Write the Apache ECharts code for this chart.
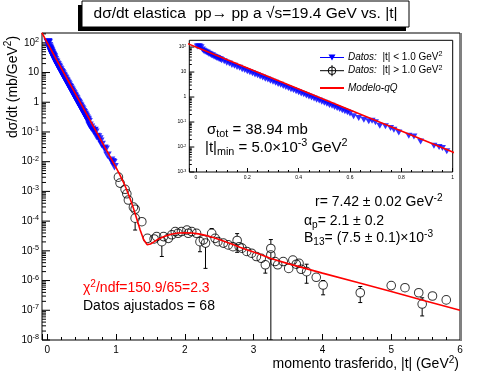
<!DOCTYPE html>
<html><head><meta charset="utf-8">
<script src="https://cdn.jsdelivr.net/npm/echarts@6/dist/echarts.min.js"></script>
<style>html,body{margin:0;padding:0;background:#fff}#c{width:479px;height:373px}</style>
</head><body><div id="c"></div>
<script>
// ---------- DATA ----------
// |t| < 1.0 GeV^2 (blue triangles): |t| in GeV^2 and log10(dσ/dt [mb/GeV^2])
const blueT = [0.005,0.010,0.015,0.020,0.025,0.030,0.035,0.040,0.045,0.050,0.055,0.060,0.065,0.070,0.075,0.080,0.085,0.090,0.095,0.100,
  0.110,0.120,0.130,0.140,0.150,0.160,0.170,0.180,0.190,0.200,0.210,0.220,0.230,0.240,0.250,0.260,0.270,0.280,0.290,0.300,
  0.310,0.320,0.330,0.340,0.350,0.360,0.370,0.380,0.390,0.400,0.410,0.420,0.430,0.440,0.450,0.460,0.470,0.480,0.490,0.500,
  0.510,0.520,0.530,0.540,0.550,0.560,0.570,0.580,0.590,0.600,
  0.614,0.634,0.654,0.673,0.686,0.699,0.716,0.738,0.758,0.771,0.790,0.829,0.849,0.875,0.927,0.947,0.960,0.977];
const blueLog10 = [2.02,2.03,2.02,1.99,1.90,1.85,1.82,1.79,1.77,1.73,1.71,1.67,1.66,1.62,1.60,1.57,1.56,1.52,1.51,1.47,
  1.43,1.37,1.34,1.28,1.25,1.20,1.17,1.11,1.08,1.03,0.99,0.95,0.90,0.87,0.82,0.78,0.73,0.70,0.65,0.61,
  0.57,0.52,0.49,0.44,0.40,0.36,0.31,0.28,0.23,0.19,0.14,0.11,0.06,0.02,-0.02,-0.06,-0.11,-0.14,-0.19,-0.23,
  -0.27,-0.32,-0.35,-0.40,-0.44,-0.48,-0.53,-0.57,-0.61,-0.66,
  -0.77,-0.84,-0.91,-0.97,-0.95,-1.01,-1.15,-1.17,-1.24,-1.31,-1.42,-1.55,-1.58,-1.78,-1.95,-2.00,-2.04,-2.17];

// |t| > 1.0 GeV^2 (open circles)
const blackT = [1.034,1.058,1.131,1.156,1.179,1.252,1.277,1.277,1.374,1.456,1.553,1.59,1.665,1.69,1.76,1.81,1.86,1.90,1.95,2.03,
  2.05,2.10,2.17,2.22,2.27,2.30,2.39,2.44,2.48,2.56,2.63,2.70,2.76,2.79,2.83,2.90,2.97,3.04,3.11,3.17,
  3.25,3.25,3.31,3.35,3.43,3.51,3.57,3.62,3.66,3.69,3.77,3.91,4.01,4.55,5.00,5.20,5.40,5.45,5.60,5.80];
const blackLog10 = [-2.52,-2.72,-2.93,-3.08,-3.29,-3.53,-3.60,-3.90,-4.02,-4.58,-4.60,-4.52,-4.69,-4.52,-4.58,-4.46,-4.35,-4.41,-4.35,-4.30,
  -4.41,-4.35,-4.41,-4.69,-4.63,-4.74,-4.41,-4.58,-4.69,-4.74,-4.80,-4.86,-4.65,-4.86,-4.91,-5.02,-5.08,-5.19,-5.25,-5.47,
  -4.92,-5.14,-5.36,-5.47,-5.36,-5.59,-5.31,-5.45,-5.42,-5.62,-5.70,-5.89,-6.15,-6.41,-6.17,-6.24,-6.41,-6.79,-6.52,-6.65];

// visible error bars (log10 of centre, lower end, upper end)
const errT       = [1.277,1.665,2.22,2.30,2.39,2.76,3.17,3.25,3.77,4.01,4.55,5.45];
const errMidLog  = [-3.90,-4.69,-4.69,-4.74,-4.41,-4.65,-5.47,-4.92,-5.70,-6.15,-6.41,-6.79];
const errLowLog  = [-4.30,-5.19,-5.03,-5.59,-4.41,-5.05,-5.75,-8.00,-6.09,-6.48,-6.74,-7.19];
const errHighLog = [-3.90,-4.69,-4.69,-4.74,-4.25,-4.42,-5.47,-4.62,-5.45,-6.00,-6.20,-6.58];

// Modelo-qQ curve
const modelT = [-0.08,0,0.1,0.2,0.3,0.4,0.5,0.6,0.7,0.8,0.9,1.0,
  1.05,1.1,1.15,1.2,1.25,1.3,1.35,1.4,1.45,1.5,1.55,1.6,
  1.7,1.8,1.9,2.0,2.1,2.2,2.3,2.4,2.5,2.6,2.7,2.8,2.9,3.0,3.1,
  3.25,3.5,4.0,4.5,5.0,5.5,6.0];
const modelLog10 = [2.34,2.0,1.58,1.16,0.74,0.32,-0.1,-0.52,-0.94,-1.36,-1.78,-2.2,
  -2.42,-2.66,-2.92,-3.22,-3.55,-3.92,-4.3,-4.62,-4.79,-4.77,-4.7,-4.62,
  -4.52,-4.44,-4.4,-4.39,-4.4,-4.43,-4.48,-4.54,-4.62,-4.7,-4.79,-4.88,-4.96,-5.04,-5.12,
  -5.26,-5.43,-5.75,-6.06,-6.37,-6.69,-7.0];

// tick labels (decade exponents)
const mainDecades = [-8,-7,-6,-5,-4,-3,-2,-1,0,1,2];
const insetDecades = [-3,-2,-1,0,1,2];

// ---------- helpers ----------
const FONT = 'Liberation Sans, Arial, Helvetica, sans-serif';
const p10 = v => Math.pow(10, v);
const pairs = (xs, ls) => xs.map((x, i) => [x, p10(ls[i])]);

function rich(fs, color) {
  const c = color || '#000';
  const s = Math.round(fs * 0.72 * 10) / 10;
  const pad = Math.round(fs * 0.6);
  return {
    sup: { fontSize: s, fontFamily: FONT, fill: c, padding: [0, 0, pad, 0] },
    sub: { fontSize: s, fontFamily: FONT, fill: c, padding: [pad, 0, 0, 0] },
    i:   { fontSize: fs, fontFamily: FONT, fill: c, fontStyle: 'italic' }
  };
}
function txt(x, y, text, fs, opt) {
  opt = opt || {};
  const color = opt.color || '#000';
  return {
    type: 'text', x: x, y: y, rotation: opt.rotation || 0, z: 100,
    style: {
      text: text, fontSize: fs, fontFamily: FONT, fill: color,
      fontStyle: opt.italic ? 'italic' : 'normal',
      align: opt.align || 'left', textAlign: opt.align || 'left',
      verticalAlign: 'middle', textVerticalAlign: 'middle',
      rich: rich(fs, color)
    }
  };
}

function yTickData(decades, xMin, maxVal) {
  const d = [];
  decades.forEach(e => {
    d.push([xMin, p10(e), 1, e]);
    for (let k = 2; k <= 9; k++) {
      const v = k * p10(e);
      if (v < maxVal) d.push([xMin, v, 0, e]);
    }
  });
  return d;
}
function makeYTicks(majorLen, minorLen, gap, fs) {
  return function (params, api) {
    const y = api.coord([api.value(0), api.value(1)])[1];
    const x0 = params.coordSys.x;
    const major = api.value(2) === 1;
    const kids = [{ type: 'line', shape: { x1: x0, y1: y, x2: x0 + (major ? majorLen : minorLen), y2: y },
      style: { stroke: '#000', lineWidth: 1 } }];
    if (major) {
      const e = api.value(3);
      const t = e === 0 ? '1' : (e === 1 ? '10' : '10{sup|' + e + '}');
      kids.push({ type: 'text', x: x0 - gap, y: y,
        style: { text: t, fontSize: fs, fontFamily: FONT, fill: '#000', align: 'right', verticalAlign: 'middle', rich: rich(fs) } });
    }
    return { type: 'group', children: kids };
  };
}
function renderErr(params, api) {
  const x = api.value(0);
  const pc = api.coord([x, api.value(1)]);
  const plo = api.coord([x, api.value(2)]);
  const phi = api.coord([x, api.value(3)]);
  const r = 4.3, cw = 2;
  const st = { stroke: '#000', lineWidth: 1 };
  const kids = [];
  if (phi[1] < pc[1] - r) {
    kids.push({ type: 'line', shape: { x1: pc[0], y1: pc[1] - r, x2: pc[0], y2: phi[1] }, style: st });
    kids.push({ type: 'line', shape: { x1: pc[0] - cw, y1: phi[1], x2: pc[0] + cw, y2: phi[1] }, style: st });
  }
  if (plo[1] > pc[1] + r) {
    kids.push({ type: 'line', shape: { x1: pc[0], y1: pc[1] + r, x2: pc[0], y2: plo[1] }, style: st });
    kids.push({ type: 'line', shape: { x1: pc[0] - cw, y1: plo[1], x2: pc[0] + cw, y2: plo[1] }, style: st });
  }
  return { type: 'group', children: kids };
}

// ---------- axes ranges ----------
const mainXMin = -0.077, mainXMax = 6;
const mainYMin = 1e-8, mainYMax = p10(2.33);
const insXMin = -0.026, insXMax = 1.0;
const insYMin = 1e-3, insYMax = p10(2.27);

const blueData = pairs(blueT, blueLog10);
const blackData = pairs(blackT, blackLog10);
const modelData = pairs(modelT, modelLog10);
const errData = errT.map((t, i) => [t, p10(errMidLog[i]), p10(errLowLog[i]), p10(errHighLog[i])]);

const chart = echarts.init(document.getElementById('c'), null, { renderer: 'canvas' });

const xAxisCommon = (min, max, split, tickLen, minorLen, fs, margin) => ({
  type: 'value', min: min, max: max, splitNumber: split,
  axisLine: { show: false },
  axisTick: { show: true, inside: true, length: tickLen, lineStyle: { color: '#000', width: 1 } },
  minorTick: { show: true, splitNumber: 5, length: minorLen, lineStyle: { color: '#000', width: 1 } },
  axisLabel: { show: true, fontSize: fs, fontFamily: FONT, color: '#000', margin: margin, showMinLabel: false, hideOverlap: false },
  splitLine: { show: false }, minorSplitLine: { show: false }
});
const yAxisCommon = (min, max) => ({
  type: 'log', logBase: 10, min: min, max: max,
  axisLine: { show: false }, axisTick: { show: false }, axisLabel: { show: false },
  splitLine: { show: false }, minorTick: { show: false }
});

chart.setOption({
  animation: false,
  backgroundColor: '#fff',
  grid: [
    { left: 42, top: 33, right: 19, bottom: 33, show: true, borderColor: '#000', borderWidth: 1, backgroundColor: '#fff' },
    { left: 189.3, top: 40.3, right: 26.3, bottom: 201, show: true, borderColor: '#000', borderWidth: 1, backgroundColor: '#fff' }
  ],
  xAxis: [
    Object.assign(xAxisCommon(mainXMin, mainXMax, 6, 6, 3, 10, 5), { gridIndex: 0 }),
    Object.assign(xAxisCommon(insXMin, insXMax, 5, 4, 2, 5, 3), { gridIndex: 1 })
  ],
  yAxis: [
    Object.assign(yAxisCommon(mainYMin, mainYMax), { gridIndex: 0 }),
    Object.assign(yAxisCommon(insYMin, insYMax), { gridIndex: 1 })
  ],
  series: [
    { type: 'custom', name: 'yticks-main', xAxisIndex: 0, yAxisIndex: 0, silent: true, clip: false, z: 3,
      data: yTickData(mainDecades, mainXMin, mainYMax), encode: { x: 0, y: 1 },
      renderItem: makeYTicks(8, 4, 3, 10) },
    { type: 'scatter', name: 'Datos: |t| < 1.0 GeV2', xAxisIndex: 0, yAxisIndex: 0, data: blueData,
      symbol: 'triangle', symbolRotate: 180, symbolSize: [8.5, 7.5], itemStyle: { color: '#0000ff' }, z: 3, silent: true },
    { type: 'custom', name: 'errors', xAxisIndex: 0, yAxisIndex: 0, silent: true, clip: true, z: 4,
      data: errData, encode: { x: 0, y: [1, 2, 3] }, renderItem: renderErr },
    { type: 'scatter', name: 'Datos: |t| > 1.0 GeV2', xAxisIndex: 0, yAxisIndex: 0, data: blackData,
      symbol: 'circle', symbolSize: 8.6,
      itemStyle: { color: 'rgba(0,0,0,0)', borderColor: '#000', borderWidth: 1 }, z: 4, silent: true },
    { type: 'line', name: 'Modelo-qQ', xAxisIndex: 0, yAxisIndex: 0, data: modelData, showSymbol: false,
      lineStyle: { color: '#ff0000', width: 1.6 }, clip: true, z: 5, silent: true },

    { type: 'custom', name: 'yticks-inset', xAxisIndex: 1, yAxisIndex: 1, silent: true, clip: false, z: 3,
      data: yTickData(insetDecades, insXMin, insYMax), encode: { x: 0, y: 1 },
      renderItem: makeYTicks(5, 2.5, 3, 5) },
    { type: 'scatter', name: 'inset-blue', xAxisIndex: 1, yAxisIndex: 1, data: blueData,
      symbol: 'triangle', symbolRotate: 180, symbolSize: [7, 6], itemStyle: { color: '#0000ff' }, z: 3, silent: true },
    { type: 'line', name: 'inset-model', xAxisIndex: 1, yAxisIndex: 1, data: modelData, showSymbol: false,
      lineStyle: { color: '#ff0000', width: 1.5 }, clip: true, z: 5, silent: true }
  ],
  graphic: [
    // title box with shadow
    { type: 'rect', z: 90, shape: { x: 78, y: 5, width: 328, height: 26 }, style: { fill: '#000' } },
    { type: 'rect', z: 91, shape: { x: 82, y: 1, width: 327, height: 26 }, style: { fill: '#fff', stroke: '#000', lineWidth: 1 } },
    txt(245.5, 14, 'dσ/dt elastica  pp→ pp a √s=19.4 GeV vs. |t|', 15.5, { align: 'center' }),
    // frame right edge
    { type: 'line', z: 90, shape: { x1: 461, y1: 33, x2: 461, y2: 341 }, style: { stroke: '#808080', lineWidth: 2 } },
    // axis titles
    txt(12.7, 87, 'dσ/dt (mb/GeV{sup|2})', 14, { align: 'center', rotation: Math.PI / 2 }),
    txt(459, 364, 'momento trasferido, |t| (GeV{sup|2})', 14, { align: 'right' }),
    // legend
    { type: 'line', z: 100, shape: { x1: 320, y1: 57.5, x2: 344, y2: 57.5 }, style: { stroke: '#0000ff', lineWidth: 1 } },
    { type: 'polygon', z: 100, shape: { points: [[328.5, 54.5], [335.5, 54.5], [332, 60.5]] }, style: { fill: '#0000ff' } },
    txt(348, 57.5, '{i|Datos:}  |t| < 1.0 GeV{sup|2}', 10),
    { type: 'line', z: 100, shape: { x1: 320, y1: 70.7, x2: 344, y2: 70.7 }, style: { stroke: '#000', lineWidth: 1 } },
    { type: 'line', z: 100, shape: { x1: 332, y1: 65.2, x2: 332, y2: 76.2 }, style: { stroke: '#000', lineWidth: 1 } },
    { type: 'circle', z: 100, shape: { cx: 332, cy: 70.7, r: 3.8 }, style: { fill: 'none', stroke: '#000', lineWidth: 1 } },
    txt(348, 70.7, '{i|Datos:}  |t| > 1.0 GeV{sup|2}', 10),
    { type: 'line', z: 100, shape: { x1: 320, y1: 88, x2: 344, y2: 88 }, style: { stroke: '#ff0000', lineWidth: 2 } },
    txt(348, 88, 'Modelo-qQ', 10, { italic: true }),
    // annotations
    txt(207, 130, 'σ{sub|tot} = 38.94 mb', 15),
    txt(205, 148, '|t|{sub|min} = 5.0×10{sup|-3} GeV{sup|2}', 15),
    txt(315, 202, 'r= 7.42 ± 0.02 GeV{sup|-2}', 14),
    txt(304, 221, 'α{sub|p}= 2.1 ± 0.2', 14),
    txt(304, 238.5, 'B{sub|13}= (7.5 ± 0.1)×10{sup|-3}', 14),
    txt(83, 288.5, 'χ{sup|2}/ndf=150.9/65=2.3', 14, { color: '#ff0000' }),
    txt(83, 306.5, 'Datos ajustados = 68', 14)
  ]
});
</script>
</body></html>
